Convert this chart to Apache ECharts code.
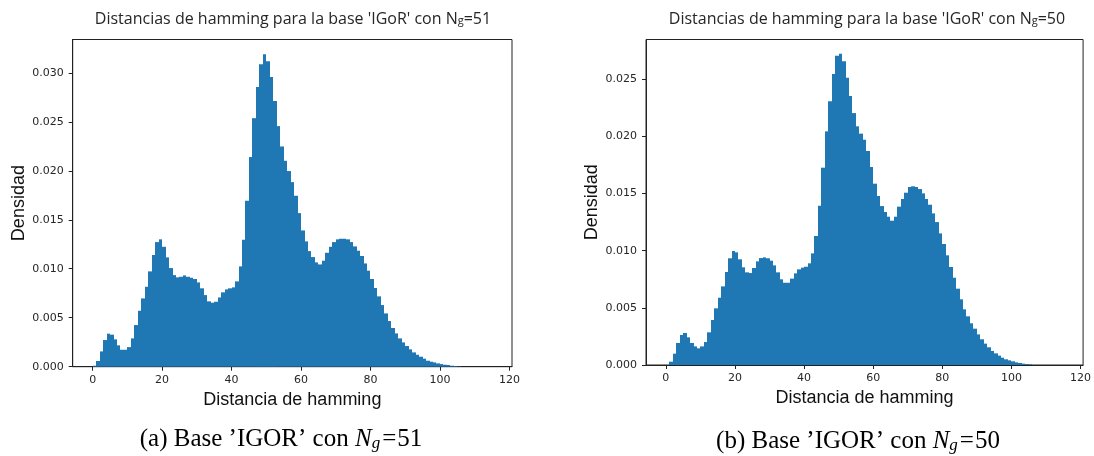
<!DOCTYPE html>
<html>
<head>
<meta charset="utf-8">
<script src="https://cdn.jsdelivr.net/npm/echarts@6/dist/echarts.min.js"></script>
<style>
  html, body { margin: 0; padding: 0; background: #ffffff; }
  #chart { width: 1094px; height: 456px; }
</style>
</head>
<body>
<div id="chart"></div>
<script>
// Left edge of each histogram bin (bin width 1)
const binStarts = [
  0, 1, 2, 3, 4, 5, 6, 7, 8, 9, 10, 11, 12, 13, 14, 15, 16, 17, 18, 19,
  20, 21, 22, 23, 24, 25, 26, 27, 28, 29, 30, 31, 32, 33, 34, 35, 36, 37, 38, 39,
  40, 41, 42, 43, 44, 45, 46, 47, 48, 49, 50, 51, 52, 53, 54, 55, 56, 57, 58, 59,
  60, 61, 62, 63, 64, 65, 66, 67, 68, 69, 70, 71, 72, 73, 74, 75, 76, 77, 78, 79,
  80, 81, 82, 83, 84, 85, 86, 87, 88, 89, 90, 91, 92, 93, 94, 95, 96, 97, 98, 99,
  100, 101, 102, 103, 104, 105
];
const binWidth = 1;

// Density per bin, N_g = 51
const densityNg51 = [
  0.0001, 0.00058, 0.00156, 0.00272, 0.00337, 0.00327, 0.00279, 0.00218, 0.00173, 0.00173,
  0.0020, 0.00289, 0.00425, 0.00571, 0.00697, 0.00816, 0.00973, 0.0114, 0.01272, 0.0130,
  0.01224, 0.01116, 0.01007, 0.00935, 0.00912, 0.00918, 0.00932, 0.00918, 0.00908, 0.00895,
  0.0086, 0.0080, 0.00731, 0.00667, 0.00653, 0.00663, 0.00707, 0.00759, 0.00789, 0.0080,
  0.0081, 0.00871, 0.01024, 0.01296, 0.01694, 0.0214, 0.02537, 0.02854, 0.03088, 0.0319,
  0.03119, 0.02956, 0.02711, 0.02456, 0.02248, 0.02102, 0.01997, 0.01884, 0.01745, 0.01568,
  0.01391, 0.01279, 0.0118, 0.01119, 0.01065, 0.01044, 0.01082, 0.01163, 0.01224, 0.01272,
  0.0130, 0.01306, 0.01306, 0.0130, 0.01272, 0.01228, 0.01184, 0.0113, 0.01054, 0.0098,
  0.00895, 0.00803, 0.00718, 0.00629, 0.00544, 0.00466, 0.00395, 0.0034, 0.00289, 0.00248,
  0.00211, 0.00177, 0.00146, 0.00122, 0.00102, 0.00082, 0.00061, 0.00051, 0.00044, 0.00034,
  0.00027, 0.0002, 0.00017, 0.0001, 0.00007, 0.00003
];

// Density per bin, N_g = 50
const densityNg50 = [
  0, 0.00029, 0.00099, 0.00193, 0.00263, 0.0028, 0.00242, 0.00193, 0.00163, 0.00146,
  0.00163, 0.00201, 0.00286, 0.00394, 0.00496, 0.00589, 0.00688, 0.00814, 0.00934, 0.00998,
  0.00986, 0.00925, 0.00855, 0.00811, 0.00805, 0.00849, 0.00907, 0.00936, 0.00942, 0.00934,
  0.00913, 0.00872, 0.00811, 0.0075, 0.0072, 0.0072, 0.00756, 0.00802, 0.00837, 0.00852,
  0.0086, 0.0089, 0.00977, 0.01129, 0.01394, 0.01727, 0.02045, 0.02308, 0.02547, 0.02707,
  0.02725, 0.02658, 0.02515, 0.02354, 0.02205, 0.02089, 0.02025, 0.01972, 0.01873, 0.01733,
  0.01587, 0.01479, 0.01391, 0.01339, 0.01298, 0.01263, 0.01298, 0.01386, 0.01453, 0.01508,
  0.01558, 0.01564, 0.01558, 0.0154, 0.01502, 0.01453, 0.01403, 0.01327, 0.01251, 0.01152,
  0.01059, 0.0096, 0.00858, 0.00764, 0.00668, 0.00575, 0.00487, 0.00426, 0.00365, 0.00318,
  0.00268, 0.00225, 0.00187, 0.00155, 0.00123, 0.00102, 0.00082, 0.00064, 0.0005, 0.00041,
  0.00032, 0.00023, 0.00018, 0.00012, 0.00009, 0.00006
];

// Axis ticks
const xTicks = [0, 20, 40, 60, 80, 100, 120];
const yTicksNg51 = [0.000, 0.005, 0.010, 0.015, 0.020, 0.025, 0.030];
const yTicksNg50 = [0.000, 0.005, 0.010, 0.015, 0.020, 0.025];

const barColor = '#1f77b4';
const inkColor = '#262626';
const frameColor = '#222222';

function histData(values) {
  return values.map((v, i) => [binStarts[i], binStarts[i] + binWidth, v]);
}

// One filled rectangle per bin; horizontal edges snapped to whole pixels so
// neighbouring bins meet without hairline seams
function renderBin(params, api) {
  const p0 = api.coord([api.value(0), api.value(2)]);
  const p1 = api.coord([api.value(1), 0]);
  const x0 = Math.round(p0[0]);
  const x1 = Math.round(p1[0]);
  const shape = echarts.graphic.clipRectByRect(
    { x: x0, y: p0[1], width: x1 - x0, height: p1[1] - p0[1] },
    params.coordSys
  );
  return shape && {
    type: 'rect',
    shape: shape,
    style: { fill: barColor }
  };
}

function xAxisFor(gridIndex) {
  return {
    type: 'value', gridIndex: gridIndex,
    min: -5.75, max: 120.75, interval: 20,
    name: 'Distancia de hamming', nameLocation: 'middle', nameGap: 21,
    nameTextStyle: { fontFamily: 'Liberation Sans', fontSize: 18, color: '#111' },
    axisLine: { show: true, onZero: false, lineStyle: { color: frameColor, width: 1 } },
    axisTick: { show: true, inside: false, length: 4, lineStyle: { color: frameColor },
      customValues: xTicks },
    axisLabel: { fontFamily: 'DejaVu Sans', fontSize: 11, color: inkColor, margin: 8,
      customValues: xTicks, formatter: v => String(v) },
    splitLine: { show: false }
  };
}

function yAxisFor(gridIndex, ticks, maxVal) {
  return {
    type: 'value', gridIndex: gridIndex,
    min: 0, max: maxVal,
    name: 'Densidad', nameLocation: 'middle', nameRotate: 90, nameGap: 45,
    nameTextStyle: { fontFamily: 'Liberation Sans', fontSize: 18, color: '#111' },
    axisLine: { show: true, onZero: false, lineStyle: { color: frameColor, width: 1 } },
    axisTick: { show: true, inside: false, length: 4, lineStyle: { color: frameColor },
      customValues: ticks },
    axisLabel: { fontFamily: 'DejaVu Sans', fontSize: 11, color: inkColor, margin: 9,
      customValues: ticks, formatter: v => v.toFixed(3) },
    splitLine: { show: false }
  };
}

const titleRich = {
  sub: { fontFamily: 'Open Sans', fontSize: 11, color: inkColor, padding: [4, 0, 0, 0] }
};
const captionRich = {
  it: { fontFamily: 'Liberation Serif', fontStyle: 'italic', fontSize: 25, color: '#000' },
  sub: { fontFamily: 'Liberation Serif', fontStyle: 'italic', fontSize: 17, color: '#000', padding: [9, 1, 0, 0] },
  eq: { fontFamily: 'Liberation Serif', fontSize: 25, color: '#000', padding: [0, 1, 0, 1] }
};

const chart = echarts.init(document.getElementById('chart'), null, { renderer: 'canvas' });

chart.setOption({
  backgroundColor: '#ffffff',
  animation: false,
  title: [
    {
      text: "Distancias de hamming para la base 'IGoR' con N{sub|g}=51",
      left: 288, top: 6, textAlign: 'center',
      textStyle: { fontFamily: 'Open Sans', fontSize: 16, fontWeight: 'normal', color: inkColor, rich: titleRich }
    },
    {
      text: "Distancias de hamming para la base 'IGoR' con N{sub|g}=50",
      left: 862, top: 6, textAlign: 'center',
      textStyle: { fontFamily: 'Open Sans', fontSize: 16, fontWeight: 'normal', color: inkColor, rich: titleRich }
    },
    {
      text: '(a) Base ’IGOR’ con {it|N}{sub|g}{eq|=}51',
      left: 276, top: 421, textAlign: 'center',
      textStyle: { fontFamily: 'Liberation Serif', fontSize: 25, fontWeight: 'normal', color: '#000', rich: captionRich }
    },
    {
      text: '(b) Base ’IGOR’ con {it|N}{sub|g}{eq|=}50',
      left: 853, top: 423, textAlign: 'center',
      textStyle: { fontFamily: 'Liberation Serif', fontSize: 25, fontWeight: 'normal', color: '#000', rich: captionRich }
    }
  ],
  grid: [
    { left: 72.7, top: 39.5, width: 439.3, height: 327.2, show: true,
      borderColor: frameColor, borderWidth: 1, backgroundColor: 'transparent' },
    { left: 646, top: 39.5, width: 439.6, height: 325.5, show: true,
      borderColor: frameColor, borderWidth: 1, backgroundColor: 'transparent' }
  ],
  xAxis: [xAxisFor(0), xAxisFor(1)],
  yAxis: [yAxisFor(0, yTicksNg51, 0.0334), yAxisFor(1, yTicksNg50, 0.02849)],
  series: [
    { type: 'custom', xAxisIndex: 0, yAxisIndex: 0, renderItem: renderBin,
      encode: { x: [0, 1], y: 2 }, data: histData(densityNg51) },
    { type: 'custom', xAxisIndex: 1, yAxisIndex: 1, renderItem: renderBin,
      encode: { x: [0, 1], y: 2 }, data: histData(densityNg50) }
  ]
});
</script>
</body>
</html>
